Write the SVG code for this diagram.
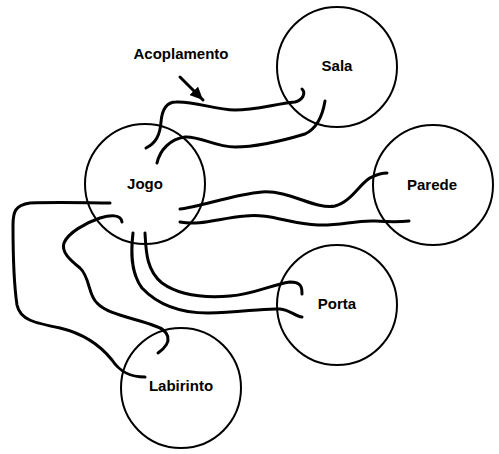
<svg xmlns="http://www.w3.org/2000/svg" width="499" height="454" viewBox="0 0 499 454">
<style>
.n{fill:none;stroke:#000;stroke-width:2}
.c{fill:none;stroke:#000;stroke-width:3;stroke-linecap:round;stroke-linejoin:round}
text{font-family:"Liberation Sans",Arial,sans-serif;font-weight:bold;font-size:15px;text-anchor:middle;fill:#000}
</style>
<defs>
<marker id="ah" markerWidth="13" markerHeight="12" refX="13" refY="6" orient="auto" markerUnits="userSpaceOnUse" viewBox="0 0 13 12">
<path d="M0,0 L13,6 L0,12 z" fill="#000"/>
</marker>
</defs>
<rect width="499" height="454" fill="#fff"/>
<g id="connectors">
<path class="c" d="M146,148 C156,143 160,135 161,122 C162,110 166,102 176,102 C195,101 215,110 235,110 C255,110 275,104 295,102 C303,100 306,93 302,89"/>
<path class="c" d="M157,163 C160,150 170,139 185,137 C200,136 215,147 235,147 C255,147 285,140 305,134 C318,128 323,113 325,101"/>
<path class="c" d="M180,209 C200,207 235,194 262,192 C290,190 315,210 335,206 C352,202 362,180 372,177 C378,174 383,173 387,173"/>
<path class="c" d="M180,222 C200,226 220,218 245,216 C270,213 290,224 318,225 C340,226 355,220 375,221 C390,222 400,222 409,221"/>
<path class="c" d="M145,233 C146,250 146,270 162,283 C180,296 205,298 230,296 C255,294 270,285 290,282 C302,282 302,288 302,294"/>
<path class="c" d="M133,233 C131,250 130,272 142,288 C158,305 180,313 208,313 C240,313 260,308 280,309 C290,310 295,316 302,317"/>
<path class="c" d="M110,203 C90,203 60,202 30,203 C15,205 13,212 13,225 C13,250 14,285 17,305 C20,320 35,323 60,328 C85,334 100,345 112,360 C120,372 130,377 145,377"/>
<path class="c" d="M122,222 C121,214 110,215 100,218 C85,223 68,233 64,243 C61,252 70,260 80,268 C90,277 88,295 97,303 C108,315 135,318 155,326 C168,330 175,341 158,353"/>
<path class="c" d="M180,77 L203,100" marker-end="url(#ah)" stroke-linecap="butt"/>
</g>
<g id="sala"><circle class="n" cx="337" cy="67" r="60"/><text x="337" y="71">Sala</text></g>
<g id="jogo"><circle class="n" cx="145" cy="184" r="60"/><text x="145" y="189">Jogo</text></g>
<g id="parede"><circle class="n" cx="433" cy="185" r="60"/><text x="432" y="190">Parede</text></g>
<g id="porta"><circle class="n" cx="337" cy="305" r="60"/><text x="337" y="309">Porta</text></g>
<g id="labirinto"><circle class="n" cx="181" cy="388" r="60"/><text x="181" y="391">Labirinto</text></g>
<g id="label"><text x="181" y="59">Acoplamento</text></g>
</svg>
